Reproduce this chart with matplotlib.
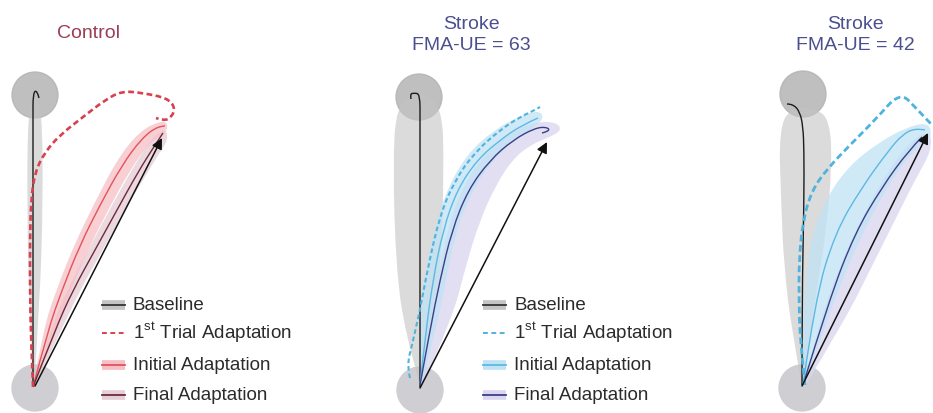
import numpy as np
import matplotlib.pyplot as plt
from matplotlib.path import Path
from matplotlib.patches import PathPatch, Circle

plt.rcParams['font.family'] = ['Liberation Sans', 'DejaVu Sans']
plt.rcParams['mathtext.fontset'] = 'custom'
plt.rcParams['mathtext.rm'] = 'Liberation Sans'

# hand path traces, in pixel coords of the figure (x right, y down)
titles = ['Control', 'Stroke\nFMA-UE = 63', 'Stroke\nFMA-UE = 42']
title_xy = [(88, 33), (471, 35), (855, 35)]
labels = ['Baseline', '1$^{\\rm st}$ Trial Adaptation', 'Initial Adaptation', 'Final Adaptation']
legend_xy = [(102, 305), (483, 305)]
legend_dy = [0, 28, 60, 90]

start_xy = [(35, 388), (420, 390), (802, 388)]
target_xy = [(35, 95), (419, 97), (803, 94)]
arrow_tip = [(162, 138), (547, 142), (928, 133)]

# control
c_base = [(33, 387), (33, 300), (33, 200), (33, 120), (33, 93), (37, 90), (39, 98)]
c_base_band = [(33, 386), (29, 300), (27, 200), (28, 110), (35, 95), (42, 110), (43, 200), (40, 300), (34, 386)]
c_first = [(33, 387), (31, 340), (30, 290), (30, 240), (31, 200), (35, 172), (45, 152), (60, 135),
           (83, 117), (105, 100), (122, 91), (143, 93), (167, 98), (175, 107), (172, 117), (164, 121), (156, 118)]
c_init = [(33, 387), (48, 330), (62, 290), (80, 245), (100, 205), (122, 165), (142, 138), (158, 126), (165, 126)]
c_init_band = [(33, 387), (43, 330), (57, 288), (75, 243), (96, 200), (118, 158), (140, 131), (160, 121), (168, 123),
               (166, 133), (150, 142), (130, 170), (108, 210), (88, 250), (70, 292), (55, 335), (34, 387)]
c_final = [(33, 387), (55, 330), (73, 290), (95, 250), (117, 210), (138, 172), (155, 145), (163, 133)]
c_final_band = [(33, 387), (50, 330), (68, 288), (90, 247), (112, 205), (134, 166), (152, 138), (166, 128),
                (168, 140), (160, 152), (143, 180), (122, 215), (100, 255), (78, 294), (60, 333), (34, 388)]

# stroke, FMA-UE 63
s1_base = [(420, 387), (420, 300), (420, 200), (420, 120), (420, 94), (414, 93), (410, 94), (411, 99)]
s1_base_band = [(420, 385), (405, 333), (396, 267), (393, 167), (396, 105), (419, 92), (442, 105), (444, 167),
                (441, 267), (430, 333), (421, 385)]
s1_first = [(410, 378), (407, 365), (412, 345), (420, 310), (428, 267), (440, 215), (455, 180), (475, 152),
            (500, 130), (520, 117), (535, 110), (540, 107)]
s1_init = [(420, 385), (426, 330), (433, 280), (443, 230), (457, 190), (477, 160), (500, 140), (522, 125), (538, 118)]
s1_init_band = [(420, 385), (418, 330), (424, 278), (436, 225), (448, 187), (468, 153), (494, 130), (520, 116),
                (540, 110), (544, 120), (525, 133), (505, 148), (485, 170), (468, 200), (455, 235), (446, 280),
                (436, 330), (421, 386)]
s1_final = [(420, 385), (430, 330), (440, 280), (452, 230), (468, 190), (490, 160), (513, 140), (535, 128),
            (547, 127), (550, 131), (542, 133)]
s1_final_band = [(420, 385), (428, 330), (437, 280), (448, 228), (462, 188), (484, 155), (510, 133), (535, 122),
                 (556, 122), (562, 130), (550, 137), (530, 145), (512, 160), (496, 185), (480, 220), (466, 265),
                 (452, 320), (422, 386)]

# stroke, FMA-UE 42
s2_base = [(802, 385), (802, 300), (804, 200), (804, 150), (803, 127), (800, 112), (793, 104), (787, 104)]
s2_base_band = [(802, 385), (792, 333), (784, 267), (781, 200), (779, 130), (790, 108), (815, 108), (830, 120),
                (832, 167), (826, 233), (815, 300), (803, 385)]
s2_first = [(805, 385), (800, 340), (799, 300), (799, 260), (803, 220), (812, 190), (828, 168), (850, 145),
            (875, 120), (900, 92), (916, 108), (932, 125)]
s2_init = [(803, 385), (815, 300), (835, 233), (862, 187), (889, 150), (902, 135), (915, 128), (925, 130)]
s2_init_band = [(802, 385), (802, 330), (806, 280), (812, 233), (828, 195), (850, 165), (878, 143), (905, 128),
                (928, 122), (932, 135), (925, 142), (915, 150), (898, 170), (880, 200), (862, 235), (842, 280),
                (822, 335), (804, 386)]
s2_final = [(803, 385), (829, 300), (855, 233), (882, 187), (909, 150), (922, 137)]
s2_final_band = [(803, 385), (820, 320), (842, 260), (866, 210), (890, 168), (912, 140), (930, 130), (932, 150),
                 (915, 180), (895, 220), (870, 270), (845, 320), (805, 386)]

panels = [
    dict(base=c_base, base_band=c_base_band, first=c_first, init=c_init, init_band=c_init_band,
         final=c_final, final_band=c_final_band,
         title_col='#9b3d56', dash_col='#d8404f', init_col='#e4525c', init_band_col='#f6bfc4',
         final_col='#6e2a3a', final_band_col='#e6d0d8', dash_lw=1.9, dash=(2.2, 1.3)),
    dict(base=s1_base, base_band=s1_base_band, first=s1_first, init=s1_init, init_band=s1_init_band,
         final=s1_final, final_band=s1_final_band,
         title_col='#4b4f8e', dash_col='#4fb3dd', init_col='#5fb8e2', init_band_col='#bfe2f5',
         final_col='#3b3f86', final_band_col='#dcd7f0', dash_lw=1.5, dash=(2.2, 1.4)),
    dict(base=s2_base, base_band=s2_base_band, first=s2_first, init=s2_init, init_band=s2_init_band,
         final=s2_final, final_band=s2_final_band,
         title_col='#4b4f8e', dash_col='#4fb3dd', init_col='#5fb8e2', init_band_col='#bfe2f5',
         final_col='#3b3f86', final_band_col='#dcd7f0', dash_lw=2.0, dash=(2.4, 1.3)),
]


def smooth(pts, closed=False):
    # quadratic bezier through midpoints, the given points act as control points
    pts = np.asarray(pts, float)
    verts = [pts[0]]
    codes = [Path.MOVETO]
    n = len(pts)
    for i in range(1, n - 1):
        end = pts[i + 1] if i == n - 2 else (pts[i] + pts[i + 1]) / 2
        verts += [pts[i], end]
        codes += [Path.CURVE3, Path.CURVE3]
    if n == 2:
        verts.append(pts[1])
        codes.append(Path.LINETO)
    if closed:
        verts.append(pts[0])
        codes.append(Path.CLOSEPOLY)
    return Path(verts, codes)


fig = plt.figure(figsize=(9.33, 4.13), dpi=100)
ax = fig.add_axes([0, 0, 1, 1])
ax.set_xlim(0, 933)
ax.set_ylim(413, 0)
ax.axis('off')

for k, p in enumerate(panels):
    ax.add_patch(Circle(start_xy[k], 23, color='#cfcfd3', zorder=1))
    ax.add_patch(Circle(target_xy[k], 23, color='#b4b4b4', alpha=0.85, zorder=1))
    ax.add_patch(PathPatch(smooth(p['base_band'], True), fc='#c4c4c4', ec='none', alpha=0.6, zorder=2))
    ax.add_patch(PathPatch(smooth(p['final_band'], True), fc=p['final_band_col'], ec='none', alpha=0.8, zorder=3))
    ax.add_patch(PathPatch(smooth(p['init_band'], True), fc=p['init_band_col'], ec='none', alpha=0.75, zorder=3))

    ax.add_patch(PathPatch(smooth(p['base']), fc='none', ec='#1c1c1c', lw=1.0, zorder=5))
    ax.add_patch(PathPatch(smooth(p['init']), fc='none', ec=p['init_col'], lw=1.0, zorder=5))
    ax.add_patch(PathPatch(smooth(p['final']), fc='none', ec=p['final_col'], lw=1.0, zorder=5))
    ax.add_patch(PathPatch(smooth(p['first']), fc='none', ec=p['dash_col'], lw=p['dash_lw'],
                           ls=(0, p['dash']), zorder=6))

    ax.annotate('', xy=arrow_tip[k], xytext=start_xy[k][:1] + (start_xy[k][1] - 2,), zorder=7,
                arrowprops=dict(arrowstyle='-|>', color='#111111', lw=1.1, mutation_scale=16,
                                shrinkA=0, shrinkB=0))

    tx, ty = title_xy[k]
    ax.text(tx, ty, titles[k], color=p['title_col'], fontsize=14, ha='center', va='center',
            linespacing=1.3)

# legends for the first two panels
for k in range(2):
    p = panels[k]
    lx, ly = legend_xy[k]
    hx = [lx, lx + 23]
    rows = [('#c4c4c4', '#333333', '-'), (None, p['dash_col'], '--'),
            (p['init_band_col'], p['init_col'], '-'), (p['final_band_col'], p['final_col'], '-')]
    for i, (band, col, ls) in enumerate(rows):
        y = ly + legend_dy[i]
        if band is not None:
            ax.plot(hx, [y, y], color=band, lw=7, solid_capstyle='butt', zorder=4)
            ax.plot(hx, [y, y], color=col, lw=1.3, zorder=5)
        else:
            ax.plot(hx, [y, y], color=col, lw=1.4, ls=(0, (2.5, 1.8)), zorder=5)
        ax.text(lx + 31, y, labels[i], fontsize=13.5, color='#2b2b2b', ha='left', va='center')

fig.savefig('out.png', dpi=100)
